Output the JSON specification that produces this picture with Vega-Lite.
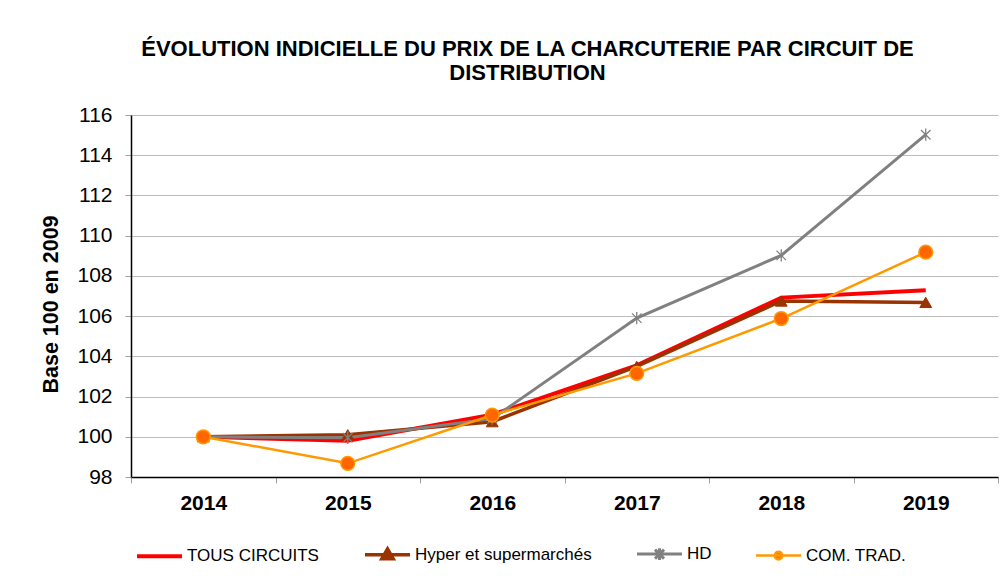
{
  "$schema": "https://vega.github.io/schema/vega-lite/v6.json",
  "width": 867,
  "height": 362,
  "autosize": {"type": "none"},
  "padding": {"left": 131, "top": 115, "right": 4, "bottom": 102},
  "background": "white",
  "config": {
    "font": "Liberation Sans",
    "view": {"stroke": null}
  },
  "title": {
    "text": ["ÉVOLUTION INDICIELLE DU PRIX DE LA CHARCUTERIE PAR CIRCUIT DE", "DISTRIBUTION"],
    "font": "Liberation Sans",
    "fontSize": 22,
    "fontWeight": "bold",
    "color": "#000000",
    "anchor": "middle",
    "dx": -37,
    "lineHeight": 24,
    "offset": 19
  },
  "data": {
    "values": [
      {"year": "2014", "series": "TOUS CIRCUITS", "value": 100},
      {"year": "2015", "series": "TOUS CIRCUITS", "value": 99.8},
      {"year": "2016", "series": "TOUS CIRCUITS", "value": 101.1},
      {"year": "2017", "series": "TOUS CIRCUITS", "value": 103.55},
      {"year": "2018", "series": "TOUS CIRCUITS", "value": 106.92},
      {"year": "2019", "series": "TOUS CIRCUITS", "value": 107.28},
      {"year": "2014", "series": "Hyper et supermarchés", "value": 100},
      {"year": "2015", "series": "Hyper et supermarchés", "value": 100.1},
      {"year": "2016", "series": "Hyper et supermarchés", "value": 100.75},
      {"year": "2017", "series": "Hyper et supermarchés", "value": 103.5},
      {"year": "2018", "series": "Hyper et supermarchés", "value": 106.75},
      {"year": "2019", "series": "Hyper et supermarchés", "value": 106.68},
      {"year": "2014", "series": "HD", "value": 100},
      {"year": "2015", "series": "HD", "value": 99.95},
      {"year": "2016", "series": "HD", "value": 100.9},
      {"year": "2017", "series": "HD", "value": 105.9},
      {"year": "2018", "series": "HD", "value": 109.02},
      {"year": "2019", "series": "HD", "value": 115.02},
      {"year": "2014", "series": "COM. TRAD.", "value": 100},
      {"year": "2015", "series": "COM. TRAD.", "value": 98.68},
      {"year": "2016", "series": "COM. TRAD.", "value": 101.08},
      {"year": "2017", "series": "COM. TRAD.", "value": 103.15},
      {"year": "2018", "series": "COM. TRAD.", "value": 105.88},
      {"year": "2019", "series": "COM. TRAD.", "value": 109.18}
    ]
  },
  "encoding": {
    "x": {
      "field": "year",
      "type": "ordinal",
      "scale": {"type": "band", "paddingInner": 0, "paddingOuter": 0},
      "axis": {
        "title": null,
        "labelAngle": 0,
        "labelFont": "Liberation Sans",
        "labelFontSize": 21,
        "labelFontWeight": "bold",
        "labelColor": "#000000",
        "labelPadding": 9,
        "tickBand": "extent",
        "tickSize": 6,
        "tickColor": "#a0a0a0",
        "domainColor": "#000000",
        "domainWidth": 1.5,
        "grid": false
      }
    },
    "y": {
      "field": "value",
      "type": "quantitative",
      "scale": {"domain": [98, 116], "nice": false, "zero": false},
      "axis": {
        "title": "Base 100 en 2009",
        "titleFont": "Liberation Sans",
        "titleFontSize": 21.5,
        "titleFontWeight": "bold",
        "titleColor": "#000000",
        "titlePadding": 14,
        "titleY": 189,
        "values": [98, 100, 102, 104, 106, 108, 110, 112, 114, 116],
        "labelFont": "Liberation Sans",
        "labelFontSize": 21,
        "labelColor": "#000000",
        "labelPadding": 13,
        "tickSize": 6,
        "tickColor": "#a0a0a0",
        "domainColor": "#000000",
        "domainWidth": 1.5,
        "grid": true,
        "gridColor": "#bdbdbd",
        "gridWidth": 1.2
      }
    }
  },
  "layer": [
    {
      "mark": {"type": "line"},
      "encoding": {
        "stroke": {
          "field": "series",
          "type": "nominal",
          "scale": {
            "domain": ["TOUS CIRCUITS", "Hyper et supermarchés", "HD", "COM. TRAD."],
            "range": ["#ff0000", "#993300", "#808080", "#ff9900"]
          },
          "legend": {
            "title": null,
            "orient": "none",
            "legendX": 4,
            "legendY": 415,
            "direction": "horizontal",
            "columns": 4,
            "columnPadding": 39,
            "labelFont": "Liberation Sans",
            "labelFontSize": 17,
            "labelLimit": 400,
            "labelColor": "#000000",
            "labelOffset": 3,
            "symbolSize": 2025,
            "encode": {
              "symbols": {
                "update": {
                  "shape": {"signal": "datum.value === 'TOUS CIRCUITS' ? 'M-1,0H1' : datum.value === 'HD' ? 'M-1,0H1M-0.2,-0.2L0.2,0.2M-0.2,0.2L0.2,-0.2M0,-0.26V0.26' : datum.value === 'COM. TRAD.' ? 'M-1,0H1M0.17,0A0.17,0.17 0 1,1 -0.17,0A0.17,0.17 0 1,1 0.17,0Z' : 'M-1,0H1M0,-0.26L0.25,0.17H-0.25Z'"},
                  "stroke": {"signal": "scale('stroke', datum.value)"},
                  "fill": {"signal": "datum.value === 'COM. TRAD.' ? '#ff6600' : scale('stroke', datum.value)"},
                  "strokeWidth": {"signal": "datum.value === 'TOUS CIRCUITS' ? 4 : 2"},
                  "opacity": {"value": 1}
                }
              }
            }
          }
        },
        "strokeWidth": {
          "field": "series",
          "type": "nominal",
          "scale": {
            "domain": ["TOUS CIRCUITS", "Hyper et supermarchés", "HD", "COM. TRAD."],
            "range": [4, 2.5, 1.8, 2]
          },
          "legend": null
        }
      }
    },
    {
      "transform": [{"filter": "datum.series === 'Hyper et supermarchés'"}],
      "mark": {"type": "point", "shape": "triangle-up", "size": 140, "filled": true, "fill": "#993300", "stroke": "#993300", "strokeWidth": 1, "opacity": 1}
    },
    {
      "transform": [{"filter": "datum.series === 'HD'"}],
      "mark": {"type": "point", "shape": "M-1,-1L1,1M-1,1L1,-1M0,-1.3V1.3", "size": 90, "filled": false, "fill": "transparent", "stroke": "#808080", "strokeWidth": 1.3, "opacity": 1}
    },
    {
      "transform": [{"filter": "datum.series === 'COM. TRAD.'"}],
      "mark": {"type": "point", "shape": "circle", "size": 190, "filled": true, "fill": "#ff6600", "stroke": "#ff9900", "strokeWidth": 1.5, "opacity": 1}
    }
  ]
}
